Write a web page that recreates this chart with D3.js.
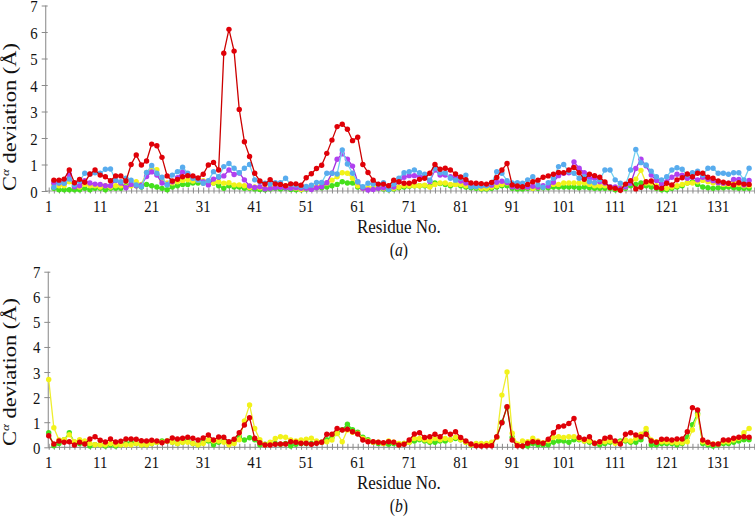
<!DOCTYPE html>
<html><head><meta charset="utf-8">
<script src="https://cdn.jsdelivr.net/npm/d3@7"></script>
<style>body{margin:0;background:#fff}svg{display:block}text{font-family:"Liberation Serif","Times New Roman",serif;fill:#111}</style>
</head><body>
<script>
// ---- data ----
const residuesTop = d3.range(2, 138);      // residues 2..137
const residuesBottom = d3.range(1, 138);   // residues 1..137
const xTickLabels = [1, 11, 21, 31, 41, 51, 61, 71, 81, 91, 101, 111, 121, 131];
const yTickLabels = [0, 1, 2, 3, 4, 5, 6, 7];

const topGreen = [.1,.05,.05,.05,.05,.05,.1,.05,.1,.1,.05,.1,.1,.1,.2,.25,.2,.15,.25,.2,.15,.1,.05,.15,.2,.25,.25,.3,.3,.3,.35,.3,.2,.1,.2,.15,.15,.1,.1,.08,.06,.05,.08,.1,.08,.1,.06,.05,.05,.08,.1,.12,.12,.15,.2,.25,.35,.3,.3,.15,.1,.08,.1,.1,.08,.05,.08,.12,.15,.18,.2,.2,.2,.18,.3,.28,.25,.2,.25,.2,.15,.12,.1,.08,.08,.1,.15,.2,.2,.1,.08,.08,.1,.1,.1,.12,.12,.15,.15,.15,.15,.15,.12,.15,.12,.1,.1,.1,.1,.05,.05,.1,.2,.25,.3,.2,.15,.1,.05,.05,.1,.15,.2,.3,.35,.25,.15,.12,.1,.12,.12,.15,.12,.1,.1,.1];
const topYellow = [.25,.2,.2,.35,.2,.15,.25,.2,.2,.15,.2,.15,.2,.2,.15,.2,.35,.25,.7,.85,.8,.4,.3,.3,.35,.4,.42,.38,.41,.39,.34,.3,.35,.29,.31,.23,.23,.2,.13,.15,.12,.1,.15,.18,.15,.2,.12,.1,.06,.1,.1,.15,.25,.29,.41,.54,.69,.67,.48,.2,.1,.12,.15,.15,.1,.08,.1,.15,.2,.2,.2,.2,.22,.15,.25,.3,.3,.25,.25,.25,.2,.2,.15,.1,.1,.15,.2,.25,.3,.2,.15,.15,.15,.1,.15,.15,.2,.25,.25,.3,.3,.3,.3,.3,.25,.2,.2,.2,.15,.1,.15,.15,.3,.45,.78,.3,.3,.2,.15,.1,.15,.2,.25,.3,.3,.35,.4,.35,.3,.3,.25,.25,.3,.25,.2,.2];
const topPurple = [.3,.3,.3,.63,.16,.2,.39,.3,.26,.25,.2,.2,.4,.3,.12,.25,.2,.22,.55,.72,.6,.3,.25,.35,.5,.72,.62,.54,.44,.35,.23,.45,.52,.57,.79,.62,.68,.42,.19,.13,.16,.08,.1,.12,.14,.12,.1,.12,.1,.1,.06,.12,.16,.31,.67,1.2,1.4,1.2,.94,.35,.1,.04,.06,.1,.12,.1,.15,.35,.52,.58,.58,.54,.54,.36,.79,.6,.6,.54,.5,.38,.3,.2,.2,.2,.22,.22,.33,.37,.32,.16,.15,.15,.15,.18,.15,.2,.19,.33,.58,.67,.69,1.1,.86,.69,.48,.48,.35,.3,.16,.15,.1,.15,.29,.85,1.2,.95,.6,.4,.26,.35,.52,.63,.6,.48,.52,.42,.52,.44,.39,.31,.29,.29,.44,.44,.23,.4];
const topBlue = [.14,.31,.29,.45,.23,.38,.67,.63,.69,.67,.82,.83,.41,.35,.48,.41,.23,.16,.7,.96,.67,.52,.23,.6,.73,.9,.67,.48,.41,.29,.39,.73,.54,.92,1.04,.86,.69,.86,1.0,.42,.35,.29,.26,.31,.31,.48,.25,.23,.16,.17,.22,.32,.32,.67,.67,.64,1.55,1.02,.67,.35,.16,.29,.26,.25,.31,.06,.26,.48,.69,.73,.79,.69,.63,.41,.86,.69,.69,.48,.41,.48,.6,.16,.16,.2,.2,.3,.73,.67,.39,.3,.31,.29,.42,.54,.23,.14,.31,.48,.92,1.0,.73,.67,.48,.54,.35,.31,.42,.79,.79,.42,.29,.23,.79,1.57,1.07,.98,.75,.54,.42,.54,.79,.88,.82,.6,.69,.75,.6,.86,.86,.67,.67,.63,.69,.69,.42,.86];
const topRed = [.41,.41,.45,.79,.31,.44,.33,.64,.79,.6,.54,.39,.57,.57,.38,1.0,1.36,.98,1.13,1.77,1.71,1.27,.57,.38,.44,.54,.58,.57,.49,.63,.98,1.08,.79,5.2,6.1,5.28,3.08,1.86,1.3,.67,.38,.26,.43,.27,.25,.2,.27,.27,.22,.5,.65,.85,.97,1.42,1.92,2.43,2.52,2.33,1.9,2.03,1.0,.7,.41,.26,.26,.2,.41,.35,.29,.29,.35,.44,.48,.67,1.0,.82,.86,.79,.64,.53,.43,.3,.29,.28,.26,.32,.51,.79,1.04,.23,.19,.16,.25,.35,.41,.52,.57,.63,.7,.69,.79,.89,.69,.44,.63,.58,.52,.34,.13,.1,.03,.26,.39,.08,.14,.35,.38,.13,.1,.29,.23,.42,.5,.64,.54,.67,.67,.52,.48,.38,.33,.29,.23,.31,.26,.25];

const botGreen = [.58,.06,.15,.3,.58,.2,.15,.15,.05,.1,.1,.05,.1,.05,.1,.15,.2,.15,.1,.1,.15,.2,.25,.25,.2,.15,.2,.25,.15,.1,.2,.25,.1,.2,.25,.15,.25,.42,.29,.38,.3,.1,.12,.15,.15,.12,.15,.05,.12,.15,.15,.15,.18,.2,.3,.4,.55,.7,.92,.7,.6,.4,.3,.2,.15,.15,.12,.15,.1,.15,.2,.25,.3,.25,.2,.2,.25,.25,.3,.35,.3,.2,.1,.1,.1,.1,.15,.4,1.0,1.6,.4,.1,.05,.05,.15,.1,.1,.1,.2,.25,.25,.2,.3,.3,.25,.2,.15,.1,.15,.2,.2,.25,.25,.2,.2,.3,.6,.1,.1,.15,.15,.15,.1,.15,.4,.9,1.35,.15,.1,.05,.1,.15,.15,.2,.25,.3,.3];
const botYellow = [2.7,.78,.29,.3,.5,.22,.3,.25,.15,.1,.1,.1,.15,.1,.1,.1,.1,.15,.1,.1,.15,.2,.2,.25,.2,.15,.2,.2,.15,.1,.15,.3,.25,.25,.2,.1,.15,.3,1.05,1.69,.75,.3,.1,.2,.35,.42,.4,.29,.25,.29,.32,.36,.25,.2,.22,.29,.56,.22,.69,.6,.55,.35,.25,.2,.2,.15,.25,.2,.15,.15,.2,.35,.35,.3,.25,.35,.3,.35,.3,.4,.3,.2,.1,.15,.15,.15,.2,.4,2.08,3.0,.56,.13,.25,.22,.36,.25,.18,.26,.39,.42,.39,.42,.42,.33,.25,.25,.16,.2,.22,.25,.16,.2,.29,.25,.36,.52,.75,.29,.22,.22,.22,.2,.18,.18,.22,.69,1.29,.22,.16,.13,.13,.22,.22,.29,.36,.58,.75];
const botRed = [.46,.13,.25,.2,.22,.09,.2,.13,.33,.42,.28,.21,.33,.21,.24,.33,.33,.32,.26,.25,.28,.25,.18,.25,.37,.33,.36,.4,.36,.29,.37,.49,.29,.41,.4,.22,.32,.58,.89,1.18,.36,.18,.09,.09,.12,.13,.13,.22,.2,.16,.16,.12,.16,.2,.52,.52,.75,.69,.72,.62,.53,.29,.22,.22,.2,.18,.22,.2,.09,.12,.29,.53,.58,.39,.42,.52,.42,.62,.52,.62,.39,.25,.13,.06,.05,.06,.06,.42,.98,1.62,.29,.06,.05,.16,.22,.2,.16,.32,.58,.82,.85,.95,1.15,.39,.32,.42,.16,.22,.36,.4,.25,.13,.52,.58,.49,.42,.52,.25,.2,.32,.32,.29,.33,.33,.62,1.58,1.49,.29,.2,.12,.13,.29,.29,.36,.4,.42,.4];

// ---- layout ----
const W = 755, H = 517;
const svg = d3.select("body").append("svg").attr("width", W).attr("height", H)
  .attr("font-family", "'Liberation Serif', 'Times New Roman', serif");
const x = d3.scaleLinear().domain([1, 137]).range([48.7, 749.1]);
const SX = 0.87; // horizontal text compression of the original figure

const colors = {green:{dot:"#44e01c",line:"#44e01c"}, yellow:{dot:"#f2f21a",line:"#eeee30"},
  purple:{dot:"#b040f0",line:"#a030e0"}, blue:{dot:"#58acee",line:"#70d0f0"}, red:{dot:"#e00008",line:"#cc0000"}};

function panel(cfg){
  const y = d3.scaleLinear().domain([0, 7]).range([cfg.y0, cfg.y7]);
  const g = svg.append("g");
  // x axis line + minor ticks
  g.append("line").attr("x1", cfg.axisX).attr("x2", W).attr("y1", cfg.y0).attr("y2", cfg.y0)
    .attr("stroke", "#9a9a9a").attr("stroke-width", 1.2);
  const xa = g.append("g").attr("transform", `translate(0,${cfg.y0})`)
    .call(d3.axisBottom(x).tickValues(d3.range(1, 139)).tickSize(0).tickFormat(""));
  xa.select(".domain").remove();
  xa.selectAll(".tick line").attr("y1", -3.5).attr("y2", 2.5).attr("stroke", "#8a8a8a").attr("stroke-width", 1);
  // y axis
  g.append("line").attr("x1", cfg.axisX).attr("x2", cfg.axisX).attr("y1", cfg.y0).attr("y2", cfg.y7)
    .attr("stroke", "#9a9a9a").attr("stroke-width", 1.2);
  const ya = g.append("g").attr("transform", `translate(${cfg.axisX},0)`)
    .call(d3.axisLeft(y).tickValues(yTickLabels).tickSize(0).tickFormat(""));
  ya.select(".domain").remove();
  ya.selectAll(".tick line").attr("x1", -4).attr("x2", 2).attr("stroke", "#8a8a8a");
  // tick labels
  g.selectAll("text.xl").data(xTickLabels).join("text").attr("class", "xl")
    .attr("transform", d => `translate(${x(d)},${cfg.y0 + 21}) scale(${SX},1)`)
    .attr("text-anchor", "middle").attr("font-size", 17).text(d => d);
  g.selectAll("text.yl").data(yTickLabels).join("text").attr("class", "yl")
    .attr("transform", d => `translate(${cfg.axisX - 8},${y(d) + 6.5}) scale(${SX},1)`)
    .attr("text-anchor", "end").attr("font-size", 17).text(d => d);
  // titles
  g.append("text").attr("transform", `translate(${x(69)},${cfg.y0 + 42}) scale(${SX},1)`)
    .attr("text-anchor", "middle").attr("font-size", 19.5).text("Residue No.");
  const cap = g.append("text").attr("transform", `translate(${x(69)},${cfg.y0 + 64.5}) scale(${SX},1)`)
    .attr("text-anchor", "middle").attr("font-size", 18);
  cap.append("tspan").text("(");
  cap.append("tspan").attr("font-style", "italic").text(cfg.tag);
  cap.append("tspan").text(")");
  const yt = g.append("text").attr("transform", `translate(16,${cfg.titleY}) rotate(-90) scale(1,0.8)`)
    .attr("text-anchor", "middle").attr("font-size", 22.5);
  yt.append("tspan").text("C");
  yt.append("tspan").attr("font-size", 13).attr("dy", -9).attr("font-style", "italic").text("α");
  yt.append("tspan").attr("dy", 9).text(" deviation (Å)");
  // series
  cfg.series.forEach(s => {
    const pts = s.values.map((v, i) => [cfg.res[i], v]);
    const c = colors[s.color];
    g.append("path").datum(pts).attr("fill", "none").attr("stroke", c.line).attr("stroke-width", 1.3)
      .attr("d", d3.line().x(d => x(d[0])).y(d => y(d[1])));
    g.append("g").selectAll("circle").data(pts).join("circle")
      .attr("cx", d => x(d[0])).attr("cy", d => y(d[1])).attr("r", 2.7).attr("fill", c.dot);
  });
}

panel({y0: 191, y7: 5.5, axisX: 45.7, titleY: 117, tag: "a", res: residuesTop,
  series: [{color:"green", values: topGreen}, {color:"yellow", values: topYellow},
           {color:"purple", values: topPurple}, {color:"blue", values: topBlue}, {color:"red", values: topRed}]});
panel({y0: 447.3, y7: 271.7, axisX: 48.3, titleY: 372, tag: "b", res: residuesBottom,
  series: [{color:"green", values: botGreen}, {color:"yellow", values: botYellow}, {color:"red", values: botRed}]});
</script>
</body></html>
